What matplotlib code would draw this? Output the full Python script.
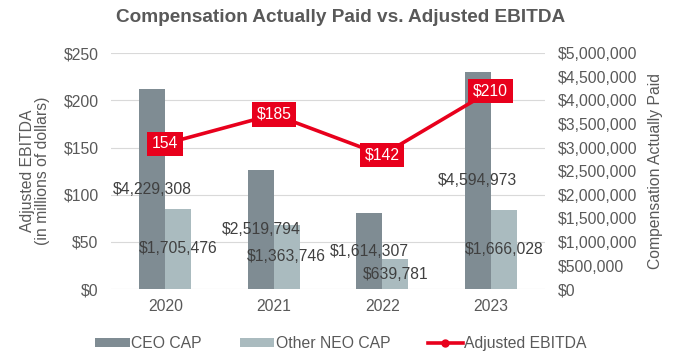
import numpy as np
import matplotlib
matplotlib.use('Agg')
import matplotlib.pyplot as plt
from matplotlib.ticker import FuncFormatter

plt.rcParams['font.family'] = ['Liberation Sans', 'DejaVu Sans']

years = ['2020', '2021', '2022', '2023']
ceo_cap = [4229308, 2519794, 1614307, 4594973]
neo_cap = [1705476, 1363746, 639781, 1666028]
ebitda = [154, 185, 142, 210]
ebitda_labels = ['154', '$185', '$142', '$210']

gray_txt = '#595959'
ceo_col = '#7f8c93'
neo_col = '#aabbbf'
red = '#e8001c'
fs = 11.3

fig = plt.figure(figsize=(6.82, 3.61), dpi=100)
ax = fig.add_axes([0.163, 0.199, 0.636, 0.654])
ax2 = ax.twinx()

x = np.arange(len(years))
w = 0.24

# bars on the right axis
b1 = ax2.bar(x - w / 2, ceo_cap, w, color=ceo_col, label='CEO CAP', zorder=2)
b2 = ax2.bar(x + w / 2, neo_cap, w, color=neo_col, label='Other NEO CAP', zorder=2)
for bars, vals in [(b1, ceo_cap), (b2, neo_cap)]:
    for r, v in zip(bars, vals):
        ax2.text(r.get_x() + r.get_width() / 2, v / 2, '${:,}'.format(v),
                 ha='center', va='center', fontsize=fs, color='#404040', zorder=5)

ax2.set_ylim(0, 5000000)
ax2.set_yticks(np.arange(0, 5000001, 500000))
ax2.yaxis.set_major_formatter(FuncFormatter(lambda v, p: '${:,.0f}'.format(v)))
ax2.set_ylabel('Compensation Actually Paid', color=gray_txt, fontsize=fs, labelpad=8)

# line on the left axis, drawn above bars
ax.set_zorder(ax2.get_zorder() + 1)
ax.patch.set_visible(False)
ln, = ax.plot(x, ebitda, color=red, lw=2.6, marker='o', ms=5, label='Adjusted EBITDA', zorder=4)
for xi, v, lab in zip(x, ebitda, ebitda_labels):
    ax.text(xi, v, lab, ha='center', va='center', fontsize=fs, color='white',
            bbox=dict(boxstyle='square,pad=0.3', fc=red, ec='none'), zorder=6)

ax.set_ylim(0, 250)
ax.set_yticks(np.arange(0, 251, 50))
ax.yaxis.set_major_formatter(FuncFormatter(lambda v, p: '${:.0f}'.format(v)))
ax.set_ylabel('Adjusted EBITDA\n(in millions of dollars)', color=gray_txt, fontsize=fs,
              linespacing=1.0, labelpad=10)
ax.set_xlim(-0.5, len(years) - 0.5)
ax.set_xticks(x)
ax.set_xticklabels(years)

# gridlines drawn behind bars on the bar axis
for v in np.arange(0, 5000001, 1000000):
    ax2.axhline(v, color='#d9d9d9', lw=0.8, zorder=0)

for a in (ax, ax2):
    for s in a.spines.values():
        s.set_visible(False)
    a.tick_params(length=0, labelsize=fs, colors=gray_txt, pad=9)
ax.tick_params(axis='x', pad=7)

fig.suptitle('Compensation Actually Paid vs. Adjusted EBITDA', x=0.5, y=0.975,
             fontsize=13.7, fontweight='bold', color=gray_txt)

fig.legend(handles=[b1, b2, ln], loc='lower center', bbox_to_anchor=(0.5, -0.012),
           ncol=3, frameon=False, fontsize=fs, labelcolor=gray_txt,
           handlelength=2.2, handleheight=0.5, columnspacing=2.4, handletextpad=0.1)

fig.savefig('out.png', dpi=100)
